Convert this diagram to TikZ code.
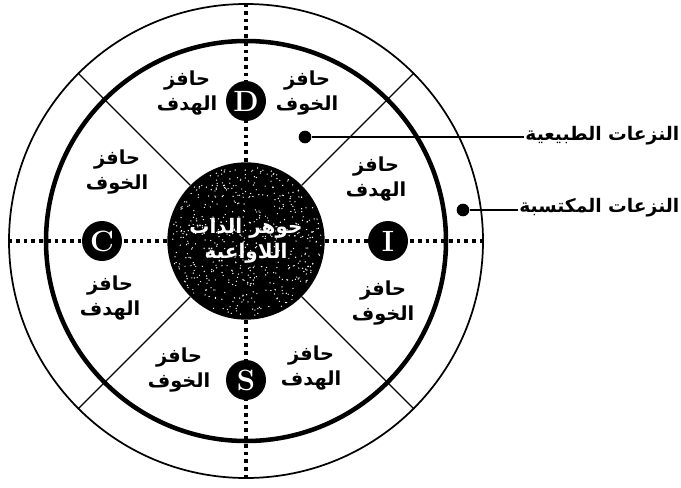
\documentclass[tikz,border=0pt]{standalone}
\usepackage{fontspec}
\newfontfamily\arabicfont[Script=Arabic]{DejaVu Sans}
\TeXXeTstate=1
\newcommand{\ar}[1]{\beginR#1\endR}
\begin{document}
\begin{tikzpicture}[x=0.75pt,y=0.75pt,
  ring/.style={circle,draw,inner sep=0pt},
  dotline/.style={line width=2.8pt,dash pattern=on 2.8pt off 3pt},
  spoke/.style={line width=1pt},
  letterdisc/.style={circle,fill=black,text=white,inner sep=0pt,minimum size=30pt,font=\bfseries\fontsize{22}{22}\selectfont},
  motive/.style={align=center,font=\arabicfont\bfseries\fontsize{14.5}{19}\selectfont},
  pointer/.style={circle,fill=black,inner sep=0pt,minimum size=9.5pt},
  tendency/.style={anchor=east,inner sep=1pt,font=\arabicfont\bfseries\fontsize{14}{16}\selectfont}]
  \useasboundingbox (0,0) rectangle (681,487);
  \coordinate (O) at (246,246);
  % rings
  \node[ring,line width=1.3pt,minimum size=355.5pt] (outer) at (O) {};
  \node[ring,line width=3.4pt,minimum size=300pt] (inner) at (O) {};
  \draw[dotline] (outer.north) -- (outer.south);
  \draw[dotline] (outer.west) -- (outer.east);
  % core with speckles
  \node[circle,inner sep=0pt,minimum size=118pt,fill=black] (core) at (O) {};
  \pgfmathsetseed{41}
  \foreach \k in {1,...,550}{
    \pgfmathsetmacro\ang{360*rnd}
    \pgfmathsetmacro\rad{75*sqrt(rnd)}
    \fill[white,shift={(O)}] (\ang:\rad) circle[radius=0.7];
  }
  \node[text=white,align=center,font=\arabicfont\bfseries\fontsize{15}{19}\selectfont] (coretext) at (core)
    {\ar{جوهر الذات}\\\ar{اللاواعية}};
  \foreach \a in {45,135,225,315}
    \draw[spoke] (core.\a) -- (outer.\a);
  % letters
  \node[letterdisc] (D) at (246,386) {D};
  \node[letterdisc] (S) at (246,107) {S};
  \node[letterdisc] (C) at (102,246) {C};
  \node[letterdisc] (I) at (388,246) {I};
  % motives
  \node[motive] (Dgoal) at (187,394) {\ar{حافز}\\\ar{الهدف}};
  \node[motive] (Dfear) at (307,394) {\ar{حافز}\\\ar{الخوف}};
  \node[motive] (Cfear) at (117,315) {\ar{حافز}\\\ar{الخوف}};
  \node[motive] (Cgoal) at (110,189) {\ar{حافز}\\\ar{الهدف}};
  \node[motive] (Igoal) at (376,308) {\ar{حافز}\\\ar{الهدف}};
  \node[motive] (Ifear) at (383,184) {\ar{حافز}\\\ar{الخوف}};
  \node[motive] (Sfear) at (179,117) {\ar{حافز}\\\ar{الخوف}};
  \node[motive] (Sgoal) at (311,119) {\ar{حافز}\\\ar{الهدف}};
  % legend
  \node[pointer] (natural) at (305,350) {};
  \node[pointer] (acquired) at (463,277) {};
  \node[tendency] (natlab) at (681,351) {\ar{النزعات الطبيعية}};
  \node[tendency] (acqlab) at (681,279) {\ar{النزعات المكتسبة}};
  \draw[line width=1pt] (natural) -- (natural -| natlab.west);
  \draw[line width=1pt] (acquired) -- (acquired -| acqlab.west);
\end{tikzpicture}
\end{document}
